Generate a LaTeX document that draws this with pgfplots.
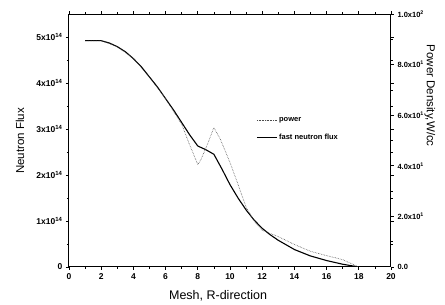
\documentclass[border=0pt]{standalone}
\usepackage{pgfplots}
\pgfplotsset{compat=1.18}
\usepackage{fontspec}
\setmainfont{Liberation Sans}
\begin{document}
\begin{tikzpicture}
\pgfplotsset{
  common/.style={
    scale only axis, width=322pt, height=253pt,
    at={(0,0)}, anchor=south west,
    xmin=0, xmax=20, xtick={0,2,...,20},
    minor x tick num=1, minor y tick num=1,
    tick align=outside, tick style={black, line width=0.6pt},
    major tick length=3pt, minor tick length=2pt,
    scaled y ticks=false,
    /pgf/number format/assume math mode=true,
    tick label style={font=\bfseries\fontsize{8.5}{9}\selectfont},
    axis line style={line width=1pt},
  }
}
\begin{axis}[common,
  ymin=0, ymax=5.5e14,
  ytick={0,1e14,2e14,3e14,4e14,5e14},
  yticklabels={0,1x10\textsuperscript{14},2x10\textsuperscript{14},3x10\textsuperscript{14},4x10\textsuperscript{14},5x10\textsuperscript{14}},
  xlabel={Mesh, R-direction},
  xlabel style={font=\fontsize{12.5}{13}\selectfont, at={(0.463,-0.114)}, anchor=center},
  ylabel={Neutron Flux},
  ylabel style={font=\fontsize{11.5}{12}\selectfont, at={(-0.152,0.498)}, anchor=center},
]
\addplot[black, line width=1.1pt] coordinates {
(1,4.92e14) (2,4.92e14) (2.5,4.87e14) (3,4.79e14) (3.5,4.68e14) (4,4.53e14) (4.5,4.35e14) (5,4.13e14)
(5.5,3.91e14) (6,3.66e14) (6.5,3.41e14) (7,3.14e14) (7.5,2.87e14) (8,2.63e14) (8.5,2.55e14) (9,2.45e14)
(9.5,2.13e14) (10,1.79e14) (10.5,1.50e14) (11,1.24e14) (11.5,1.02e14) (12,0.84e14) (12.5,0.70e14) (13,0.58e14)
(14,0.38e14) (15,0.24e14) (16,0.14e14) (17,0.06e14) (18,0.0)
};
\end{axis}
\begin{axis}[common,
  axis x line=none, axis y line*=right,
  ymin=0, ymax=100,
  ytick={0,20,40,60,80,100},
  yticklabels={0.0,2.0x10\textsuperscript{1},4.0x10\textsuperscript{1},6.0x10\textsuperscript{1},8.0x10\textsuperscript{1},1.0x10\textsuperscript{2}},
  yticklabel style={font=\bfseries\fontsize{7.5}{8}\selectfont},
  ylabel={Power Density,W/cc},
  ylabel style={font=\fontsize{11.5}{12}\selectfont, rotate=180, at={(1.121,0.677)}, anchor=center},
  legend style={draw=none, fill=none, at={(0.572,0.608)}, anchor=north west,
    font=\bfseries\fontsize{7.5}{8}\selectfont, row sep=7pt, legend cell align=left},
  legend image post style={xscale=1.15},
]
\addplot[black!70, line width=0.6pt, densely dotted] coordinates {
(1,89.4) (2,89.4) (3,87.1) (4,82.4) (5,75.1) (6,66.5) (7,56.4) (7.5,48.2) (8,40.5) (8.2,42.5)
(8.6,48.5) (9,55.1) (9.4,50.5) (10,41.3) (10.5,32.7) (11,23.6) (11.5,18.2) (12,14.5) (13,12.0)
(14,8.9) (15,6.2) (16,4.5) (17,2.9) (18,0)
};
\addlegendentry{power}
\addlegendimage{black, line width=1.1pt}
\addlegendentry{fast neutron flux}
\end{axis}
\pgfresetboundingbox
\path (-69pt,-38pt) rectangle (376pt,267pt);
\end{tikzpicture}
\end{document}
